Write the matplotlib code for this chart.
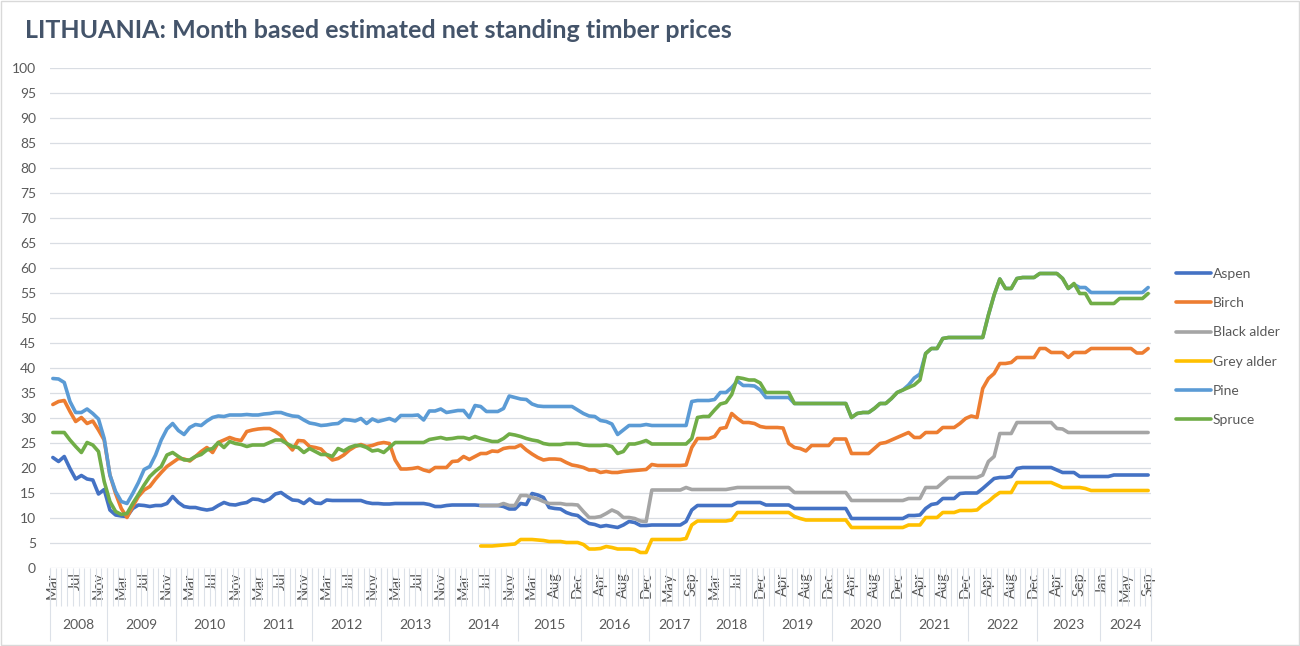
import numpy as np
import matplotlib
matplotlib.use("Agg")
import matplotlib.pyplot as plt
from matplotlib.patches import Rectangle

plt.rcParams['font.family'] = ['Lato', 'DejaVu Sans']

# category axis: months actually present in the series (a few months are missing)
years = [2008, 2009, 2010, 2011, 2012, 2013, 2014, 2015, 2016,
         2017, 2018, 2019, 2020, 2021, 2022, 2023, 2024]
FULL = "Jan Feb Mar Apr May Jun Jul Aug Sep Oct Nov Dec"
months_in_year = [
    "Mar Apr May Jun Jul Aug Sep Oct Nov Dec",
    FULL, FULL, FULL, FULL, FULL, FULL,
    "Jan Feb Mar Apr May Jul Aug Sep Oct Nov Dec",
    FULL,
    "Jan Mar Apr May Jun Jul Aug Sep Oct",
    "Jan Feb Mar Apr May Jun Jul Aug Oct Nov Dec",
    FULL, FULL, FULL, FULL,
    "Jan Feb Mar Apr May Jul Aug Sep Oct Nov Dec",
    "Jan Feb Mar Apr May Jun Jul Aug Sep",
]

N = None
aspen = [
    22.1, 21.3, 22.3, 19.9, 17.8, 18.5, 17.8, 17.6, 14.8, 15.7,
    11.6, 10.6, 10.4, 10.3, 11.9, 12.6, 12.5, 12.3, 12.5, 12.5, 12.9, 14.3,
    13.1, 12.3, 12.1, 12.1, 11.8, 11.6, 11.8, 12.5, 13.1, 12.7, 12.6, 12.9,
    13.1, 13.8, 13.7, 13.3, 13.8, 14.8, 15.1, 14.3, 13.6, 13.5, 12.9, 13.8,
    13.0, 12.9, 13.6, 13.5, 13.5, 13.5, 13.5, 13.5, 13.5, 13.1, 12.9, 12.9,
    12.8, 12.8, 12.9, 12.9, 12.9, 12.9, 12.9, 12.9, 12.7, 12.3, 12.3, 12.5,
    12.6, 12.6, 12.6, 12.6, 12.6, 12.5, 12.5, 12.5, 12.5, 12.3, 11.8, 11.8,
    12.9, 12.7, 14.9, 14.6, 14.1, 12.1, 11.9, 11.8, 11.1, 10.7, 10.5,
    9.6, 8.9, 8.7, 8.3, 8.5, 8.3, 8.1, 8.6, 9.3, 9.1, 8.5, 8.5,
    8.6, 8.6, 8.6, 8.6, 8.6, 8.6, 9.3, 11.6, 12.5,
    12.5, 12.5, 12.5, 12.5, 12.5, 12.5, 13.1, 13.1, 13.1, 13.1, 13.1,
    12.6, 12.6, 12.6, 12.6, 12.6, 11.9, 11.9, 11.9, 11.9, 11.9, 11.9, 11.9,
    11.9, 11.9, 11.9, 9.9, 9.9, 9.9, 9.9, 9.9, 9.9, 9.9, 9.9, 9.9,
    9.9, 10.5, 10.5, 10.6, 11.9, 12.7, 12.9, 13.9, 13.9, 13.9, 14.9, 15.0,
    15.0, 15.0, 15.9, 16.9, 17.9, 18.1, 18.1, 18.3, 19.9, 20.1, 20.1, 20.1,
    20.1, 20.1, 20.1, 19.6, 19.1, 19.1, 19.1, 18.3, 18.3, 18.3, 18.3,
    18.3, 18.3, 18.6, 18.6, 18.6, 18.6, 18.6, 18.6, 18.6,
]
birch = [
    32.7, 33.3, 33.5, 31.3, 29.3, 30.1, 28.9, 29.4, 27.6, 25.6,
    18.6, 14.9, 11.9, 10.1, 12.3, 14.3, 15.6, 16.3, 17.8, 19.1, 20.3, 21.1,
    21.9, 21.8, 21.4, 22.3, 23.3, 24.1, 23.1, 25.1, 25.6, 26.1, 25.7, 25.5,
    27.3, 27.6, 27.8, 27.9, 27.9, 27.3, 26.5, 24.9, 23.6, 25.5, 25.4, 24.3,
    24.1, 23.8, 22.6, 21.6, 21.9, 22.6, 23.6, 24.3, 24.7, 24.3, 24.5, 24.9,
    25.1, 24.9, 21.6, 19.8, 19.8, 19.9, 20.1, 19.6, 19.3, 20.1, 20.1, 20.1,
    21.3, 21.4, 22.3, 21.7, 22.3, 22.9, 22.9, 23.4, 23.3, 23.9, 24.1, 24.1,
    24.6, 23.6, 22.8, 22.1, 21.6, 21.8, 21.8, 21.7, 21.1, 20.6, 20.4,
    20.1, 19.6, 19.6, 19.1, 19.3, 19.1, 19.1, 19.3, 19.4, 19.5, 19.6, 19.7,
    20.7, 20.5, 20.5, 20.5, 20.5, 20.5, 20.6, 24.1, 25.9,
    25.9, 25.9, 26.3, 27.9, 28.1, 30.9, 29.9, 29.1, 29.1, 28.9, 28.3,
    28.1, 28.1, 28.1, 28.0, 24.9, 24.1, 23.9, 23.4, 24.5, 24.5, 24.5, 24.5,
    25.8, 25.8, 25.8, 22.9, 22.9, 22.9, 22.9, 23.9, 24.9, 25.1, 25.6, 26.1,
    26.6, 27.1, 26.1, 26.1, 27.1, 27.1, 27.1, 28.1, 28.1, 28.1, 28.9, 29.9,
    30.4, 30.1, 35.9, 37.9, 38.9, 40.9, 40.9, 41.1, 42.1, 42.1, 42.1, 42.1,
    43.9, 43.9, 43.1, 43.1, 43.1, 42.1, 43.1, 43.1, 43.1, 43.9, 43.9,
    43.9, 43.9, 43.9, 43.9, 43.9, 43.9, 43.0, 43.0, 43.9,
]
black_alder = [N] * 75 + [
    12.5, 12.5, 12.5, 12.5, 12.9, 12.5, 12.5,
    14.5, 14.5, 14.1, 13.8, 13.3, 12.9, 12.9, 12.9, 12.7, 12.7, 12.6,
    11.3, 10.1, 10.1, 10.3, 10.9, 11.6, 11.1, 10.1, 10.1, 9.9, 9.4, 9.3,
    15.6, 15.6, 15.6, 15.6, 15.6, 15.6, 16.1, 15.7, 15.7,
    15.7, 15.7, 15.7, 15.7, 15.7, 15.9, 16.1, 16.1, 16.1, 16.1, 16.1,
    16.1, 16.1, 16.1, 16.1, 16.1, 15.1, 15.1, 15.1, 15.1, 15.1, 15.1, 15.1,
    15.1, 15.1, 15.1, 13.5, 13.5, 13.5, 13.5, 13.5, 13.5, 13.5, 13.5, 13.5,
    13.5, 13.9, 13.9, 13.9, 16.1, 16.1, 16.1, 17.1, 18.1, 18.1, 18.1, 18.1,
    18.1, 18.1, 18.6, 21.3, 22.3, 26.9, 26.9, 26.9, 29.1, 29.1, 29.1, 29.1,
    29.1, 29.1, 29.1, 27.9, 27.8, 27.1, 27.1, 27.1, 27.1, 27.1, 27.1,
    27.1, 27.1, 27.1, 27.1, 27.1, 27.1, 27.1, 27.1, 27.1,
]
grey_alder = [N] * 75 + [
    4.4, 4.4, 4.4, 4.5, 4.6, 4.7, 4.8,
    5.7, 5.7, 5.7, 5.6, 5.5, 5.3, 5.3, 5.3, 5.1, 5.1, 5.1,
    4.7, 3.8, 3.8, 3.9, 4.3, 4.1, 3.8, 3.8, 3.8, 3.7, 3.1, 3.1,
    5.7, 5.7, 5.7, 5.7, 5.7, 5.7, 5.9, 8.6, 9.4,
    9.4, 9.4, 9.4, 9.4, 9.4, 9.6, 11.1, 11.1, 11.1, 11.1, 11.1,
    11.1, 11.1, 11.1, 11.1, 11.1, 10.3, 9.9, 9.6, 9.6, 9.6, 9.6, 9.6,
    9.6, 9.6, 9.6, 8.1, 8.1, 8.1, 8.1, 8.1, 8.1, 8.1, 8.1, 8.1,
    8.1, 8.6, 8.6, 8.6, 10.1, 10.1, 10.1, 11.1, 11.1, 11.1, 11.5, 11.5,
    11.5, 11.6, 12.6, 13.3, 14.3, 15.1, 15.1, 15.1, 17.1, 17.1, 17.1, 17.1,
    17.1, 17.1, 17.1, 16.6, 16.1, 16.1, 16.1, 16.1, 15.9, 15.5, 15.5,
    15.5, 15.5, 15.5, 15.5, 15.5, 15.5, 15.5, 15.5, 15.5,
]
pine = [
    37.9, 37.8, 37.1, 33.3, 31.1, 31.1, 31.8, 30.9, 29.8, 25.9,
    18.6, 15.3, 13.3, 12.9, 14.9, 17.1, 19.7, 20.3, 22.6, 25.6, 27.8, 28.9,
    27.5, 26.7, 28.1, 28.7, 28.5, 29.4, 30.1, 30.4, 30.3, 30.6, 30.6, 30.6,
    30.7, 30.6, 30.6, 30.8, 30.9, 31.1, 31.1, 30.7, 30.4, 30.3, 29.6, 29.0,
    28.8, 28.5, 28.6, 28.8, 28.9, 29.7, 29.6, 29.4, 29.9, 28.9, 29.8, 29.3,
    29.6, 29.9, 29.4, 30.5, 30.5, 30.5, 30.6, 29.6, 31.4, 31.4, 31.8, 31.1,
    31.3, 31.5, 31.5, 30.1, 32.5, 32.3, 31.3, 31.3, 31.3, 31.9, 34.4, 34.1,
    33.8, 33.7, 32.8, 32.4, 32.3, 32.3, 32.3, 32.3, 32.3, 32.3, 31.6,
    30.9, 30.4, 30.3, 29.5, 29.3, 28.8, 26.7, 27.6, 28.5, 28.5, 28.5, 28.7,
    28.5, 28.5, 28.5, 28.5, 28.5, 28.5, 28.5, 33.3, 33.5,
    33.5, 33.5, 33.7, 35.1, 35.1, 36.1, 37.4, 36.5, 36.5, 36.4, 35.6,
    34.1, 34.1, 34.1, 34.1, 34.1, 32.9, 32.9, 32.9, 32.9, 32.9, 32.9, 32.9,
    32.9, 32.9, 32.9, 30.1, 30.9, 31.1, 31.1, 31.9, 32.9, 32.9, 33.9, 35.1,
    35.6, 36.6, 38.0, 38.8, 42.9, 43.9, 43.9, 45.9, 46.1, 46.1, 46.1, 46.1,
    46.1, 46.1, 46.1, 50.6, 54.6, 57.8, 55.9, 55.9, 57.9, 58.1, 58.1, 58.1,
    58.9, 58.9, 58.9, 58.9, 57.9, 55.9, 56.7, 56.1, 56.1, 55.1, 55.1,
    55.1, 55.1, 55.1, 55.1, 55.1, 55.1, 55.1, 55.1, 56.1,
]
spruce = [
    27.1, 27.1, 27.1, 25.6, 24.3, 23.1, 25.1, 24.6, 23.3, 17.3,
    13.3, 11.3, 10.7, 10.9, 12.9, 14.7, 16.6, 18.3, 19.4, 20.3, 22.6, 23.1,
    22.3, 21.6, 21.6, 22.3, 22.7, 23.6, 23.9, 25.1, 24.1, 25.3, 24.9, 24.7,
    24.3, 24.6, 24.6, 24.6, 25.1, 25.6, 25.6, 24.9, 24.3, 24.1, 23.1, 23.9,
    23.3, 22.7, 22.7, 22.3, 23.9, 23.4, 24.1, 24.5, 24.5, 24.1, 23.4, 23.6,
    23.1, 24.1, 25.1, 25.1, 25.1, 25.1, 25.1, 25.1, 25.7, 25.9, 26.1, 25.8,
    25.9, 26.1, 26.1, 25.8, 26.3, 25.9, 25.6, 25.3, 25.3, 25.9, 26.8, 26.6,
    26.3, 25.9, 25.6, 25.4, 24.9, 24.7, 24.7, 24.7, 24.9, 24.9, 24.9,
    24.6, 24.5, 24.5, 24.5, 24.6, 24.3, 22.9, 23.3, 24.8, 24.8, 25.1, 25.5,
    24.8, 24.8, 24.8, 24.8, 24.8, 24.8, 24.8, 25.9, 30.1,
    30.3, 30.3, 31.6, 32.8, 33.1, 34.7, 38.1, 37.9, 37.6, 37.6, 37.0,
    35.1, 35.1, 35.1, 35.1, 35.1, 32.9, 32.9, 32.9, 32.9, 32.9, 32.9, 32.9,
    32.9, 32.9, 32.9, 30.1, 30.9, 31.1, 31.1, 31.9, 32.9, 32.9, 33.9, 35.1,
    35.6, 36.1, 36.6, 37.6, 42.9, 43.9, 43.9, 45.9, 46.1, 46.1, 46.1, 46.1,
    46.1, 46.1, 46.1, 50.6, 54.6, 57.8, 55.9, 55.9, 57.9, 58.1, 58.1, 58.1,
    58.9, 58.9, 58.9, 58.9, 57.9, 55.9, 56.9, 54.9, 54.9, 52.9, 52.9,
    52.9, 52.9, 52.9, 53.9, 53.9, 53.9, 53.9, 53.9, 54.9,
]

series = ["Aspen", "Birch", "Black alder", "Grey alder", "Pine", "Spruce"]
colors = ["#4472C4", "#ED7D31", "#A5A5A5", "#FFC000", "#5B9BD5", "#70AD47"]
values = [aspen, birch, black_alder, grey_alder, pine, spruce]

# build the month categories
month_labels = []
year_of = []
for y, ms in zip(years, months_in_year):
    for m in ms.split():
        month_labels.append(m)
        year_of.append(y)
n = len(month_labels)
x = np.arange(n)

fig = plt.figure(figsize=(13, 6.46), dpi=100)
ax = fig.add_axes([50 / 1300, 78 / 646, 1101 / 1300, 500 / 646])

for name, col, vals in zip(series, colors, values):
    yv = np.array([np.nan if v is None else v for v in vals], dtype=float)
    ax.plot(x, yv, color=col, lw=2.6, label=name,
            solid_joinstyle='round', solid_capstyle='round')

ax.set_xlim(-0.5, n - 0.5)
ax.set_ylim(0, 100)
ax.set_yticks(range(0, 101, 5))
ax.yaxis.grid(True, color='#D9DDE3', lw=0.9)
ax.set_axisbelow(True)
for s in ax.spines.values():
    s.set_visible(False)
ax.tick_params(axis='y', length=0, pad=10, labelsize=10, labelcolor='#595959')

# month labels every 4th category, tick marks between categories
lab_idx = x[::4]
ax.set_xticks(lab_idx)
ax.set_xticklabels([month_labels[i] for i in lab_idx], rotation=90)
ax.set_xticks(np.arange(-0.5, n, 1), minor=True)
ax.tick_params(axis='x', which='major', length=0, pad=3, labelsize=10.5,
               labelcolor='#595959')
ax.tick_params(axis='x', which='minor', length=27, width=0.8, color='#DCE1E8')

# year level of the category axis
trans = ax.get_xaxis_transform()
yr = np.array(year_of)
edges = [-0.5]
for y in years:
    idx = np.where(yr == y)[0]
    edges.append(idx[-1] + 0.5)
    ax.text((idx[0] + idx[-1]) / 2, -0.114, str(y), transform=trans,
            ha='center', va='center', fontsize=10, color='#595959')
ax.vlines(edges, -0.145, 0, transform=trans, colors='#DCE1E8', lw=0.8,
          clip_on=False)

fig.text(25 / 1300, 1 - 31 / 646,
         "LITHUANIA: Month based estimated net standing timber prices",
         ha='left', va='center', fontsize=18, fontweight='bold',
         color='#44546A')

fig.legend(loc='upper left', bbox_to_anchor=(1176 / 1300, 1 - 268 / 646),
           frameon=False, fontsize=10, handlelength=2.5, handletextpad=0.15,
           labelspacing=1.24, borderpad=0, borderaxespad=0, labelcolor='#595959')

fig.patches.append(Rectangle((0.0005, 0.001), 0.999, 0.998,
                             transform=fig.transFigure, fill=False,
                             edgecolor='#D9D9D9', lw=1))

fig.savefig("out.png", dpi=100)
